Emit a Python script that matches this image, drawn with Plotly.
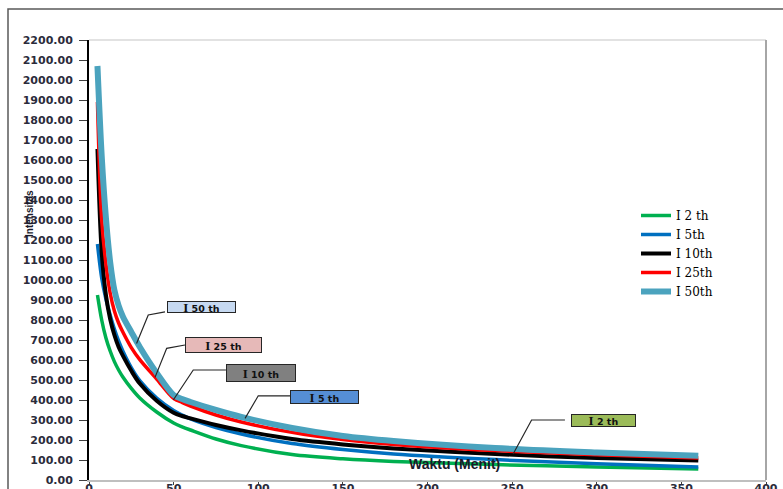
import plotly.graph_objects as go

# Durations (minutes)
waktu = [5, 7.5, 10, 12.5, 15, 17.5, 20, 25, 30, 40, 50, 55, 60, 75, 90, 120, 150, 180, 240, 300, 360]

# Intensity series
i2 = [925, 800, 710, 645, 592, 550, 515, 458, 410, 340, 285, 266, 250, 205, 172, 127, 106, 93, 77, 65, 55]
i5 = [1180, 1010, 905, 825, 755, 695, 645, 562, 497, 410, 348, 325, 305, 262, 230, 182, 152, 130, 102, 81, 65]
i10 = [1655, 1140, 925, 805, 725, 665, 622, 546, 482, 396, 336, 320, 308, 275, 248, 205, 178, 158, 130, 110, 97]
i25 = [1890, 1300, 1080, 935, 845, 785, 740, 662, 602, 505, 408, 388, 370, 325, 290, 238, 202, 178, 147, 126, 110]
i50 = [2070, 1620, 1310, 1090, 950, 872, 818, 740, 665, 535, 425, 405, 390, 350, 315, 260, 220, 195, 160, 138, 121]

series_names = ["I 2 th", "I 5th", "I 10th", "I 25th", "I 50th"]
series_vals = [i2, i5, i10, i25, i50]
series_colors = ["#00B050", "#0070C0", "#000000", "#FF0000", "#4BA3BE"]
series_widths = [3.5, 3.5, 4, 3.5, 6]

# Callout labels: text, box centre (data), leader path (data), fill
callout_text = ["I 50 th", "I 25 th", "I 10 th", "I 5 th", "I 2 th"]
callout_box = [(66.5, 866), (79.6, 676), (101.5, 537), (139.2, 414), (304.0, 296)]
callout_size = [(69, 12), (77, 16), (70, 18), (69, 14), (65, 13)]
callout_fill = ["#C6D9F1", "#E6B9B8", "#808080", "#558ED5", "#9BBB59"]
callout_path = [
    [(44.9, 841), (35.0, 825), (28.1, 683)],
    [(56.7, 675), (45.9, 658), (39.0, 513)],
    [(80.9, 550), (61.6, 550), (49.8, 400)],
    [(118.8, 421), (100.0, 421), (92.2, 308)],
    [(281.2, 300), (261.5, 300), (250.6, 130)],
]

fig = go.Figure()
for name, vals, col, w in zip(series_names, series_vals, series_colors, series_widths):
    fig.add_trace(go.Scatter(
        x=waktu, y=vals, name=name, mode="lines",
        line=dict(color=col, width=w, shape="spline", smoothing=0.9),
    ))

tick_font = dict(family="DejaVu Sans", size=11, color="#2b2b3b", weight="bold")

fig.update_layout(
    width=783, height=489,
    margin=dict(l=89, r=17, t=40, b=9),
    paper_bgcolor="white", plot_bgcolor="white",
    showlegend=True,
    legend=dict(
        x=(636 - 89) / 677, y=(480 - 201) / 440, xanchor="left", yanchor="top",
        font=dict(family="DejaVu Serif", size=12, color="#000000"),
        bgcolor="rgba(0,0,0,0)", tracegroupgap=0, itemwidth=30,
    ),
    xaxis=dict(
        range=[0, 400], dtick=50, tick0=0, showgrid=False, zeroline=False,
        showline=True, linecolor="#BFBFBF", linewidth=1.5,
        ticks="outside", ticklen=3, tickcolor="#404040",
        ticklabelstandoff=-6,
        tickfont=tick_font, automargin=False,
    ),
    yaxis=dict(
        range=[0, 2200], dtick=100, tick0=0, tickformat=".2f",
        showgrid=False, zeroline=False,
        showline=True, linecolor="#000000", linewidth=2,
        ticks="outside", ticklen=8, tickcolor="#404040",
        ticklabelstandoff=4,
        tickfont=tick_font, automargin=False,
    ),
)

shapes = []
# outer chart border
shapes.append(dict(type="rect", xref="paper", yref="paper",
                   x0=(8 - 89) / 677, x1=(800 - 89) / 677,
                   y0=(480 - 500) / 440, y1=(480 - 9) / 440,
                   line=dict(color="#595959", width=1.5), layer="below"))
# top and right border of plot area
shapes.append(dict(type="line", xref="paper", yref="paper", x0=0, x1=1, y0=1, y1=1,
                   line=dict(color="#D9D9D9", width=1.5)))
shapes.append(dict(type="line", xref="paper", yref="paper", x0=1, x1=1, y0=0, y1=1,
                   line=dict(color="#A6A6A6", width=2)))
# leader lines
for path in callout_path:
    d = "M " + " L ".join(f"{px},{py}" for px, py in path)
    shapes.append(dict(type="path", xref="x", yref="y", path=d,
                       line=dict(color="#262626", width=1.2)))
fig.update_layout(shapes=shapes)

annotations = []
for txt, (bx, by), (w, h), fill in zip(callout_text, callout_box, callout_size, callout_fill):
    parts = txt.split(" ", 1)
    label = (f"<b>{parts[0]}</b> <span style='font-family:DejaVu Sans;font-size:9.5px'>"
             f"<b>{parts[1]}</b></span>")
    annotations.append(dict(
        x=bx, y=by, xref="x", yref="y", text=label, showarrow=False,
        font=dict(family="Liberation Serif", size=13, color="#111111"),
        bgcolor=fill, bordercolor="#262626", borderwidth=1, borderpad=0,
        width=w - 2, height=h - 2, align="center", valign="middle",
    ))
# axis titles
annotations.append(dict(
    x=(29 - 89) / 677, y=(480 - 214) / 440, xref="paper", yref="paper",
    xanchor="center", yanchor="middle",
    text="<b>Intensitas</b>", showarrow=False, textangle=-90,
    font=dict(family="Liberation Sans", size=10, color="#1a1a2a"),
))
annotations.append(dict(
    x=(455 - 89) / 677, y=(480 - 474) / 440, xref="paper", yref="paper",
    text="<b>Waktu (Menit)</b>", showarrow=False,
    font=dict(family="Liberation Sans", size=14, color="#1a1a2a"),
))
fig.update_layout(annotations=annotations)

fig.write_html("out.html")
